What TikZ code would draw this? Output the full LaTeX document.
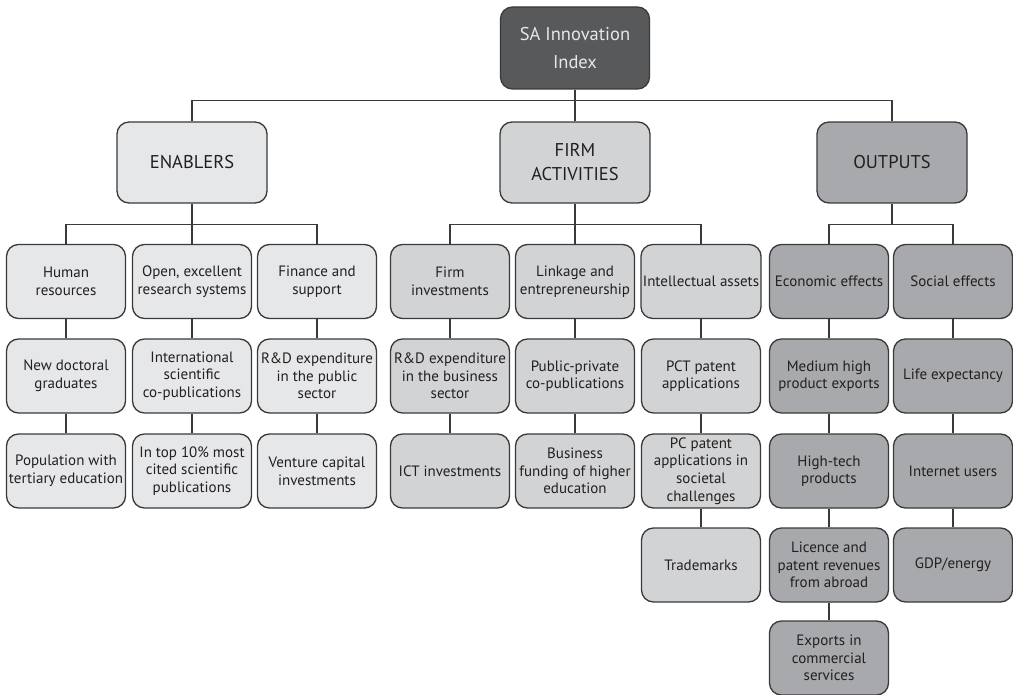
\documentclass[tikz,border=0pt]{standalone}
\usepackage{fontspec}
\setmainfont{PT Sans}
\usetikzlibrary{backgrounds}
\definecolor{darkbox}{HTML}{58595B}
\definecolor{enabcol}{HTML}{E6E7E8}
\definecolor{firmcol}{HTML}{D1D3D4}
\definecolor{outcol}{HTML}{A7A9AC}
\definecolor{linecol}{HTML}{3A3A3A}
\definecolor{txtcol}{HTML}{231F20}

\begin{document}
\begin{tikzpicture}[x=1pt,y=-1pt,
  box/.style={draw=linecol,line width=1.3pt,rounded corners=12pt,align=center,text=txtcol,inner sep=2pt},
  index/.style={box,fill=darkbox,text=enabcol,minimum width=149pt,minimum height=82pt,font=\fontsize{18.5}{28}\selectfont},
  group/.style={box,minimum width=150pt,minimum height=81pt,font=\fontsize{18.5}{24}\selectfont},
  item/.style={box,minimum width=119pt,minimum height=74pt,font=\fontsize{15}{17.6}\selectfont},
  link/.style={draw=linecol,line width=1.2pt}]

  \useasboundingbox (0,0) rectangle (1013,695);

  \node [index] (idx) at (575,48) {SA Innovation\\Index};

%% groups
  \node [group,fill=enabcol] (ena) at (192,162.5) {ENABLERS};
  \node [group,fill=firmcol] (firm) at (575,162.5) {FIRM\\ACTIVITIES};
  \node [group,fill=outcol] (outp) at (892,162.5) {OUTPUTS};

%% enablers
  \node [item,fill=enabcol] (hr) at (66,281.5) {Human\\resources};
  \node [item,fill=enabcol] (hr1) at (66,376) {New doctoral\\graduates};
  \node [item,fill=enabcol] (hr2) at (66,471) {Population with\\tertiary education};

  \node [item,fill=enabcol] (ores) at (192,281.5) {Open, excellent\\research systems};
  \node [item,fill=enabcol] (ores1) at (192,376) {International\\scientific\\co-publications};
  \node [item,fill=enabcol] (ores2) at (192,471) {In top 10\% most\\cited scientific\\publications};

  \node [item,fill=enabcol] (fin) at (317,281.5) {Finance and\\support};
  \node [item,fill=enabcol] (fin1) at (317,376) {R\&D expenditure\\in the public\\sector};
  \node [item,fill=enabcol] (fin2) at (317,471) {Venture capital\\investments};

%% firm activities
  \node [item,fill=firmcol] (finv) at (450,281.5) {Firm\\investments};
  \node [item,fill=firmcol] (finv1) at (450,376) {R\&D expenditure\\in the business\\sector};
  \node [item,fill=firmcol] (finv2) at (450,471) {ICT investments};

  \node [item,fill=firmcol] (lnk) at (575,281.5) {Linkage and\\entrepreneurship};
  \node [item,fill=firmcol] (lnk1) at (575,376) {Public-private\\co-publications};
  \node [item,fill=firmcol] (lnk2) at (575,471) {Business\\funding of higher\\education};

  \node [item,fill=firmcol] (ia) at (701,281.5) {Intellectual assets};
  \node [item,fill=firmcol] (ia1) at (701,376) {PCT patent\\applications};
  \node [item,fill=firmcol] (ia2) at (701,471) {PC patent\\applications in\\societal\\challenges};
  \node [item,fill=firmcol] (ia3) at (701,565) {Trademarks};

%% outputs
  \node [item,fill=outcol] (eco) at (829,281.5) {Economic effects};
  \node [item,fill=outcol] (eco1) at (829,376) {Medium high\\product exports};
  \node [item,fill=outcol] (eco2) at (829,471) {High-tech\\products};
  \node [item,fill=outcol] (eco3) at (829,565) {Licence and\\patent revenues\\from abroad};
  \node [item,fill=outcol] (eco4) at (829,658) {Exports in\\commercial\\services};

  \node [item,fill=outcol] (soc) at (953,281.5) {Social effects};
  \node [item,fill=outcol] (soc1) at (953,376) {Life expectancy};
  \node [item,fill=outcol] (soc2) at (953,471) {Internet users};
  \node [item,fill=outcol] (soc3) at (953,565) {GDP/energy};

%% connections
  \begin{pgfonlayer}{background}
  \draw [link] (idx.south) -- ++(0,11) -| (ena.north);
  \draw [link] (idx.south) -- (firm.north);
  \draw [link] (idx.south) -- ++(0,11) -| (outp.north);

  \draw [link] (ena.south) -- ++(0,21) -| (hr.north);
  \draw [link] (ena.south) -- (ores.north);
  \draw [link] (ena.south) -- ++(0,21) -| (fin.north);

  \draw [link] (firm.south) -- ++(0,21) -| (finv.north);
  \draw [link] (firm.south) -- (lnk.north);
  \draw [link] (firm.south) -- ++(0,21) -| (ia.north);

  \draw [link] (outp.south) -- ++(0,21) -| (eco.north);
  \draw [link] (outp.south) -- ++(0,21) -| (soc.north);

  \draw [link] (hr) -- (hr1) (hr1) -- (hr2);
  \draw [link] (ores) -- (ores1) (ores1) -- (ores2);
  \draw [link] (fin) -- (fin1) (fin1) -- (fin2);
  \draw [link] (finv) -- (finv1) (finv1) -- (finv2);
  \draw [link] (lnk) -- (lnk1) (lnk1) -- (lnk2);
  \draw [link] (ia) -- (ia1) (ia1) -- (ia2) (ia2) -- (ia3);
  \draw [link] (eco) -- (eco1) (eco1) -- (eco2) (eco2) -- (eco3) (eco3) -- (eco4);
  \draw [link] (soc) -- (soc1) (soc1) -- (soc2) (soc2) -- (soc3);
  \end{pgfonlayer}
\end{tikzpicture}
\end{document}
